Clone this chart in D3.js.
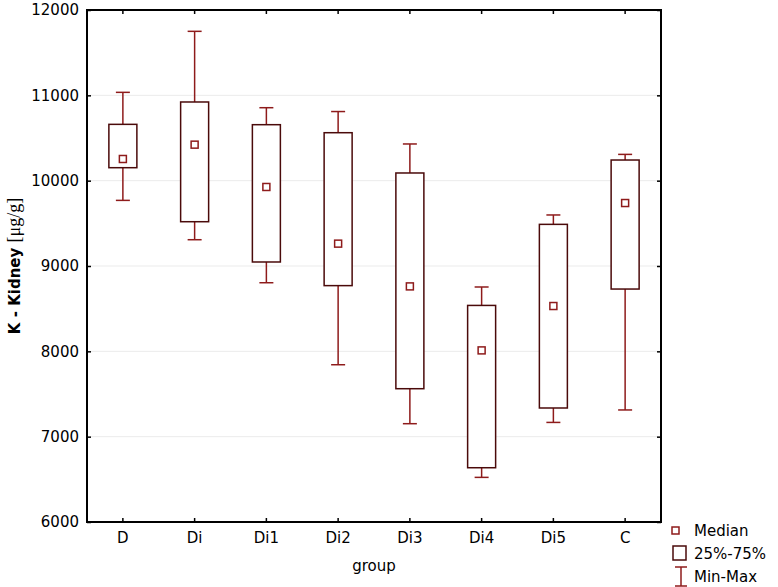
<!DOCTYPE html>
<html>
<head>
<meta charset="utf-8">
<script src="https://cdn.jsdelivr.net/npm/d3@7"></script>
<style>
body { margin: 0; background: #fff; }
text { font-family: "DejaVu Sans", sans-serif; }
</style>
</head>
<body>
<svg id="chart" width="778" height="587"></svg>
<script>
// values
var groups = ["D", "Di", "Di1", "Di2", "Di3", "Di4", "Di5", "C"];
var minVals = [9769, 9308, 8804, 7843, 7152, 6523, 7167, 7313];
var q1Vals = [10152, 9519, 9047, 8770, 7562, 6636, 7336, 8730];
var medVals = [10254, 10422, 9926, 9262, 8761, 8011, 8531, 9738];
var q3Vals = [10660, 10922, 10656, 10562, 10090, 8538, 9488, 10242];
var maxVals = [11035, 11750, 10855, 10810, 10430, 8754, 9598, 10308];
var yTicks = [6000, 7000, 8000, 9000, 10000, 11000, 12000];

var margin = {top: 10, left: 87, right: 117, bottom: 65};
var width = 778 - margin.left - margin.right;
var height = 587 - margin.top - margin.bottom;

var boxCol = "#4a0a0a", whiskCol = "#8e1b1b";

var svg = d3.select("#chart");
var g = svg.append("g").attr("transform", "translate(" + margin.left + "," + margin.top + ")");

var xs = d3.scaleBand().domain(groups).range([0, width]);
var ys = d3.scaleLinear().domain([6000, 12000]).range([height, 0]);

// grid
g.selectAll(".grid").data(yTicks.slice(1, -1)).enter().append("line")
  .attr("x1", 0).attr("x2", width)
  .attr("y1", function(d) { return ys(d); }).attr("y2", function(d) { return ys(d); })
  .attr("stroke", "#ebebeb").attr("stroke-width", 1);

var data = groups.map(function(k, i) {
  return {k: k, min: minVals[i], q1: q1Vals[i], med: medVals[i], q3: q3Vals[i], max: maxVals[i]};
});

var bw = 28, cap = 14, ms = 7;
var box = g.selectAll(".box").data(data).enter().append("g")
  .attr("transform", function(d) { return "translate(" + (xs(d.k) + xs.bandwidth() / 2) + ",0)"; });

box.append("line").attr("x1", 0).attr("x2", 0)
  .attr("y1", function(d) { return ys(d.max); }).attr("y2", function(d) { return ys(d.q3); })
  .attr("stroke", whiskCol).attr("stroke-width", 1.5);
box.append("line").attr("x1", 0).attr("x2", 0)
  .attr("y1", function(d) { return ys(d.q1); }).attr("y2", function(d) { return ys(d.min); })
  .attr("stroke", whiskCol).attr("stroke-width", 1.5);
box.append("line").attr("x1", -cap / 2).attr("x2", cap / 2)
  .attr("y1", function(d) { return ys(d.max); }).attr("y2", function(d) { return ys(d.max); })
  .attr("stroke", whiskCol).attr("stroke-width", 1.5);
box.append("line").attr("x1", -cap / 2).attr("x2", cap / 2)
  .attr("y1", function(d) { return ys(d.min); }).attr("y2", function(d) { return ys(d.min); })
  .attr("stroke", whiskCol).attr("stroke-width", 1.5);
box.append("rect").attr("x", -bw / 2).attr("width", bw)
  .attr("y", function(d) { return ys(d.q3); })
  .attr("height", function(d) { return ys(d.q1) - ys(d.q3); })
  .attr("fill", "#fff").attr("stroke", boxCol).attr("stroke-width", 1.5);
box.append("rect").attr("x", -ms / 2).attr("width", ms).attr("height", ms)
  .attr("y", function(d) { return ys(d.med) - ms / 2; })
  .attr("fill", "#fff").attr("stroke", whiskCol).attr("stroke-width", 1.5);

// axes
var ya = d3.axisLeft(ys).tickValues(yTicks).tickSize(-4).tickPadding(8).tickFormat(d3.format("d"));
var yr = d3.axisRight(ys).tickValues(yTicks).tickSize(-4).tickFormat("");
var xa = d3.axisBottom(xs).tickSize(-4).tickPadding(10);
var xt = d3.axisTop(xs).tickSize(-4).tickFormat("");

function style(sel) {
  sel.select(".domain").remove();
  sel.selectAll(".tick line").attr("stroke", "#000").attr("stroke-width", 1.5);
  sel.selectAll(".tick text").attr("fill", "#000").style("font-size", "15px");
}
g.append("g").call(ya).call(style);
g.append("g").attr("transform", "translate(" + width + ",0)").call(yr).call(style);
g.append("g").attr("transform", "translate(0," + height + ")").call(xa).call(style);
g.append("g").call(xt).call(style);

g.append("rect").attr("width", width).attr("height", height)
  .attr("fill", "none").attr("stroke", "#000").attr("stroke-width", 2);

// titles
g.append("text").attr("x", width / 2).attr("y", height + 49)
  .attr("text-anchor", "middle").style("font-size", "15px").text("group");

var yt = svg.append("text").attr("transform", "translate(20," + (margin.top + height / 2) + ") rotate(-90)")
  .attr("text-anchor", "middle").style("font-size", "15px");
yt.append("tspan").style("font-weight", "bold").text("K - Kidney ");
yt.append("tspan").style("font-family", "'Liberation Serif', serif").style("font-size", "18px").text("[μg/g]");

// legend
var lg = svg.append("g").attr("transform", "translate(672,0)");
lg.append("rect").attr("x", 0).attr("y", 527).attr("width", 7).attr("height", 7)
  .attr("fill", "#fff").attr("stroke", whiskCol).attr("stroke-width", 1.5);
lg.append("rect").attr("x", 1).attr("y", 546).attr("width", 13).attr("height", 14)
  .attr("fill", "#fff").attr("stroke", boxCol).attr("stroke-width", 1.5);
lg.append("line").attr("x1", 3).attr("x2", 15).attr("y1", 567).attr("y2", 567).attr("stroke", whiskCol).attr("stroke-width", 1.5);
lg.append("line").attr("x1", 9).attr("x2", 9).attr("y1", 567).attr("y2", 586).attr("stroke", whiskCol).attr("stroke-width", 1.5);
lg.append("line").attr("x1", 3).attr("x2", 15).attr("y1", 586).attr("y2", 586).attr("stroke", whiskCol).attr("stroke-width", 1.5);
var legTxt = ["Median", "25%-75%", "Min-Max"];
lg.selectAll(".lt").data(legTxt).enter().append("text")
  .attr("x", 22).attr("y", function(d, i) { return 536 + i * 23; })
  .style("font-size", "15px").text(function(d) { return d; });
</script>
</body>
</html>
